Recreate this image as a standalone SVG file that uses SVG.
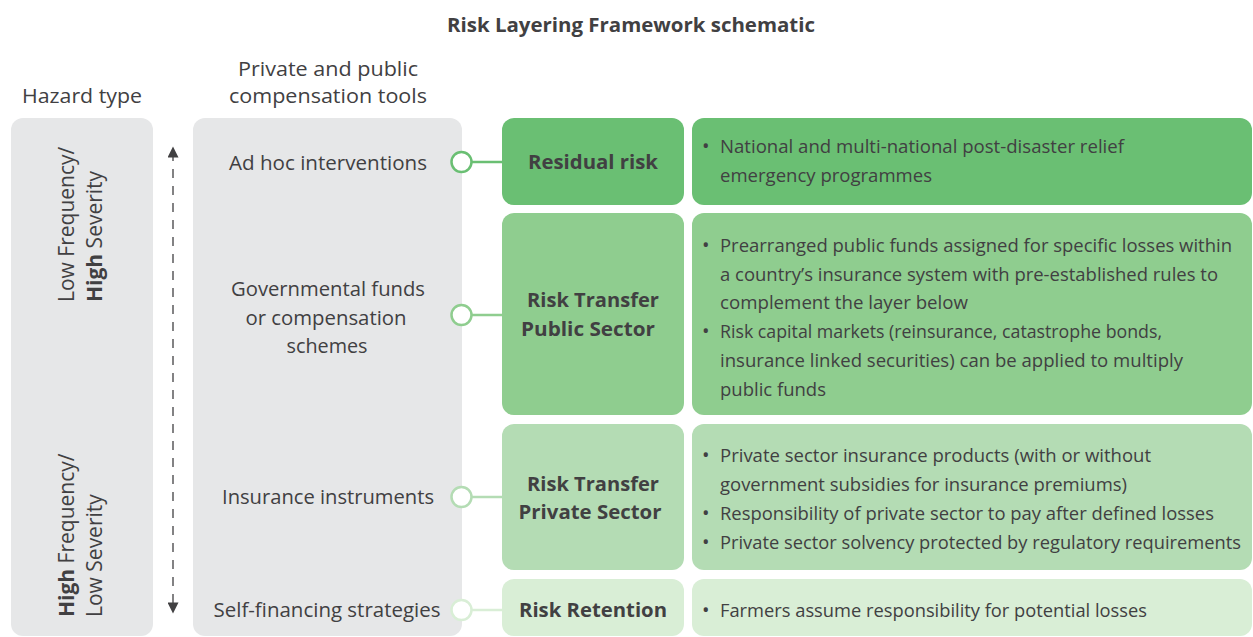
<svg xmlns="http://www.w3.org/2000/svg" width="1253" height="637" viewBox="0 0 1253 637">
<style>
text{font-family:"Open Sans","Noto Sans","Liberation Sans",sans-serif;fill:#414042;font-size:20px}
.b{font-weight:bold}
.c{text-anchor:middle}
.r{font-size:21px}
.t{font-size:19px}
.panel{fill:#e6e7e8}
.g1{fill:#6abf73}.g2{fill:#8fcd8f}.g3{fill:#b4dcb4}.g4{fill:#d9eed6}
.s1{stroke:#6abf73}.s2{stroke:#8fcd8f}.s3{stroke:#b4dcb4}.s4{stroke:#d9eed6}
.dot{fill:#fff;stroke-width:2.5}
.ln{stroke-width:2.5;fill:none}
</style>
<defs>
<marker id="ah" viewBox="0 0 10 10" refX="5" refY="5" markerWidth="12" markerHeight="11" markerUnits="userSpaceOnUse" orient="auto-start-reverse">
<path d="M0,0 L10,5 L0,10 z" fill="#414042"/>
</marker>
</defs>
<text id="title" class="b c" x="631" y="32" textLength="368" lengthAdjust="spacingAndGlyphs">Risk Layering Framework schematic</text>

<g id="hazard">
<text class="c" x="82" y="103" textLength="120" lengthAdjust="spacingAndGlyphs">Hazard type</text>
<rect class="panel" x="11" y="118" width="142" height="518" rx="12"/>
<text class="r" transform="translate(74,302) rotate(-90)"><tspan>Low </tspan><tspan>Frequency/</tspan></text>
<text class="r" transform="translate(102,302) rotate(-90)"><tspan class="b">High</tspan><tspan> Severity</tspan></text>
<text class="r" transform="translate(74,617) rotate(-90)"><tspan class="b">High</tspan><tspan> Frequency/</tspan></text>
<text class="r" transform="translate(102,617) rotate(-90)"><tspan>Low Severity</tspan></text>
</g>

<g id="axis">
<line x1="173" y1="152" x2="173" y2="608" stroke="#414042" stroke-width="1.3" stroke-dasharray="9,8" marker-start="url(#ah)" marker-end="url(#ah)"/>
</g>

<g id="tools">
<text class="c" x="328" y="76" textLength="180" lengthAdjust="spacingAndGlyphs">Private and public</text>
<text class="c" x="328" y="103" textLength="198" lengthAdjust="spacingAndGlyphs">compensation tools</text>
<rect class="panel" x="193" y="118" width="269" height="518" rx="12"/>
<text class="c" x="328" y="170" textLength="198" lengthAdjust="spacingAndGlyphs">Ad hoc interventions</text>
<text class="c" x="328" y="296" textLength="194" lengthAdjust="spacingAndGlyphs">Governmental funds</text>
<text class="c" x="326" y="325" textLength="161" lengthAdjust="spacingAndGlyphs">or compensation</text>
<text class="c" x="327" y="353" textLength="81" lengthAdjust="spacingAndGlyphs">schemes</text>
<text class="c" x="328" y="504" textLength="212" lengthAdjust="spacingAndGlyphs">Insurance instruments</text>
<text class="c" x="327" y="617" textLength="227" lengthAdjust="spacingAndGlyphs">Self-financing strategies</text>
</g>

<g id="connectors">
<line class="ln s1" x1="472" y1="162" x2="503" y2="162"/>
<line class="ln s2" x1="472" y1="315" x2="503" y2="315"/>
<line class="ln s3" x1="472" y1="497" x2="503" y2="497"/>
<line class="ln s4" x1="472" y1="610" x2="503" y2="610"/>
<circle class="dot s1" cx="461.5" cy="162" r="10"/>
<circle class="dot s2" cx="461.5" cy="315" r="10"/>
<circle class="dot s3" cx="461.5" cy="497" r="10"/>
<circle class="dot s4" cx="461.5" cy="610" r="10"/>
</g>

<g id="residual">
<rect class="g1" x="502" y="118" width="182" height="87" rx="12"/>
<text class="b c" x="593" y="169" textLength="130" lengthAdjust="spacingAndGlyphs">Residual risk</text>
<rect class="g1" x="692" y="118" width="560" height="87" rx="12"/>
<text x="702" y="153">•</text>
<text class="t" x="720" y="153" textLength="404" lengthAdjust="spacingAndGlyphs">National and multi-national post-disaster relief</text>
<text class="t" x="720" y="182" textLength="212" lengthAdjust="spacingAndGlyphs">emergency programmes</text>
</g>

<g id="public">
<rect class="g2" x="502" y="213" width="182" height="202" rx="12"/>
<text class="b c" x="593" y="307" textLength="132" lengthAdjust="spacingAndGlyphs">Risk Transfer</text>
<text class="b c" x="588" y="336" textLength="134" lengthAdjust="spacingAndGlyphs">Public Sector</text>
<rect class="g2" x="692" y="213" width="560" height="202" rx="12"/>
<text x="702" y="252">•</text>
<text class="t" x="720" y="252" textLength="512" lengthAdjust="spacingAndGlyphs">Prearranged public funds assigned for specific losses within</text>
<text class="t" x="720" y="281" textLength="498" lengthAdjust="spacingAndGlyphs">a country’s insurance system with pre-established rules to</text>
<text class="t" x="720" y="309" textLength="248" lengthAdjust="spacingAndGlyphs">complement the layer below</text>
<text x="702" y="338">•</text>
<text class="t" x="720" y="338" textLength="442" lengthAdjust="spacingAndGlyphs">Risk capital markets (reinsurance, catastrophe bonds,</text>
<text class="t" x="720" y="367" textLength="463" lengthAdjust="spacingAndGlyphs">insurance linked securities) can be applied to multiply</text>
<text class="t" x="720" y="396" textLength="106" lengthAdjust="spacingAndGlyphs">public funds</text>
</g>

<g id="private">
<rect class="g3" x="502" y="424" width="182" height="146" rx="12"/>
<text class="b c" x="593" y="491" textLength="132" lengthAdjust="spacingAndGlyphs">Risk Transfer</text>
<text class="b c" x="590" y="519" textLength="143" lengthAdjust="spacingAndGlyphs">Private Sector</text>
<rect class="g3" x="692" y="424" width="560" height="146" rx="12"/>
<text x="702" y="462">•</text>
<text class="t" x="720" y="462" textLength="431" lengthAdjust="spacingAndGlyphs">Private sector insurance products (with or without</text>
<text class="t" x="720" y="491" textLength="407" lengthAdjust="spacingAndGlyphs">government subsidies for insurance premiums)</text>
<text x="702" y="520">•</text>
<text class="t" x="720" y="520" textLength="494" lengthAdjust="spacingAndGlyphs">Responsibility of private sector to pay after defined losses</text>
<text x="702" y="549">•</text>
<text class="t" x="720" y="549" textLength="521" lengthAdjust="spacingAndGlyphs">Private sector solvency protected by regulatory requirements</text>
</g>

<g id="retention">
<rect class="g4" x="502" y="579" width="182" height="57" rx="12"/>
<text class="b c" x="593" y="617" textLength="148" lengthAdjust="spacingAndGlyphs">Risk Retention</text>
<rect class="g4" x="692" y="579" width="560" height="57" rx="12"/>
<text x="702" y="617">•</text>
<text class="t" x="720" y="617" textLength="427" lengthAdjust="spacingAndGlyphs">Farmers assume responsibility for potential losses</text>
</g>
</svg>
